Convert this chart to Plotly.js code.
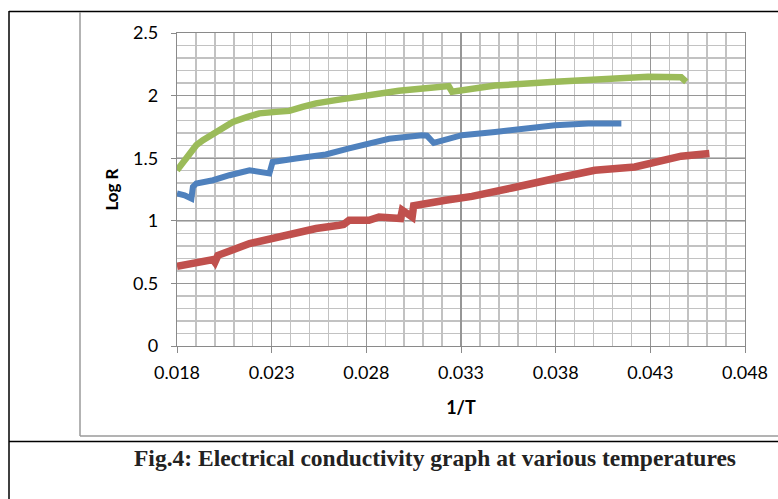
<!DOCTYPE html>
<html>
<head>
<meta charset="utf-8">
<script src="https://cdn.plot.ly/plotly-3.0.1.min.js"></script>
<style>html,body{margin:0;padding:0;background:#fff;}#chart{width:778px;height:499px;}</style>
</head>
<body>
<div id="chart"></div>
<script>
// Green series (top)
const greenX = [0.0180, 0.01832, 0.01867, 0.01902, 0.01937, 0.0199, 0.02042, 0.02095, 0.02165, 0.02235, 0.02323, 0.02393, 0.02463, 0.02534, 0.02639, 0.02797, 0.02867, 0.02972, 0.03113, 0.0320, 0.03235, 0.03253, 0.0328, 0.0348, 0.03797, 0.04007, 0.04288, 0.04463, 0.0449];
const greenY = [1.404, 1.47, 1.55, 1.604, 1.644, 1.692, 1.738, 1.79, 1.826, 1.858, 1.87, 1.878, 1.91, 1.938, 1.964, 2.004, 2.018, 2.038, 2.058, 2.068, 2.076, 2.03, 2.035, 2.08, 2.11, 2.13, 2.15, 2.146, 2.11];
// Blue series (middle)
const blueX = [0.0180, 0.0184, 0.01876, 0.01884, 0.01902, 0.0199, 0.02077, 0.02183, 0.02288, 0.02305, 0.02428, 0.02534, 0.02586, 0.02709, 0.02797, 0.02867, 0.0292, 0.03095, 0.0312, 0.03156, 0.03235, 0.03305, 0.0348, 0.03656, 0.03797, 0.03972, 0.04147];
const blueY = [1.218, 1.204, 1.178, 1.27, 1.298, 1.324, 1.364, 1.404, 1.378, 1.47, 1.498, 1.524, 1.53, 1.578, 1.61, 1.642, 1.655, 1.684, 1.68, 1.622, 1.66, 1.684, 1.71, 1.738, 1.764, 1.778, 1.778];
// Red series (bottom)
const redX = [0.0180, 0.01884, 0.01972, 0.0199, 0.0200, 0.02016, 0.02183, 0.02305, 0.02393, 0.02534, 0.02656, 0.0268, 0.02709, 0.02814, 0.02867, 0.02981, 0.0299, 0.03042, 0.0305, 0.0313, 0.03218, 0.03358, 0.0348, 0.03568, 0.03797, 0.04007, 0.04218, 0.04358, 0.04463, 0.04612];
const redY = [0.636, 0.658, 0.684, 0.69, 0.67, 0.724, 0.818, 0.858, 0.898, 0.938, 0.964, 0.97, 1.004, 1.004, 1.03, 1.018, 1.084, 1.03, 1.12, 1.135, 1.164, 1.195, 1.24, 1.262, 1.338, 1.404, 1.43, 1.484, 1.516, 1.538];

const xTicks = [0.018, 0.023, 0.028, 0.033, 0.038, 0.043, 0.048];
const xTickText = ['0.018', '0.023', '0.028', '0.033', '0.038', '0.043', '0.048'];
const yTicks = [0, 0.5, 1, 1.5, 2, 2.5];
const yTickText = ['0', '0.5', '1', '1.5', '2', '2.5'];

const captionText = 'Fig.4: Electrical conductivity graph at various temperatures';

// page geometry (pixels)
const W = 778, H = 499;
const L = 177, R = 745, T = 33, B = 346;
const px = v => (v - L) / (R - L);
const py = v => (B - v) / (B - T);

const traces = [
  {x: greenX, y: greenY, mode: 'lines', line: {color: '#9BBB59', width: 6.5}, name: 'green'},
  {x: blueX, y: blueY, mode: 'lines', line: {color: '#4F81BD', width: 6}, name: 'blue'},
  {x: redX, y: redY, mode: 'lines', line: {color: '#C0504D', width: 7.5}, name: 'red'}
];

const fam = 'Lato, "Open Sans", sans-serif';
const tickFont = {family: fam, size: 18, color: '#000'};

const layout = {
  width: W, height: H,
  margin: {l: L, r: W - R, t: T, b: H - B, pad: 0},
  paper_bgcolor: '#fff', plot_bgcolor: '#fff',
  showlegend: false,
  xaxis: {
    range: [0.018, 0.048], tickvals: xTicks, ticktext: xTickText,
    showgrid: true, gridcolor: '#969696', gridwidth: 1.2,
    minor: {dtick: 0.001, tick0: 0.018, showgrid: true, gridcolor: '#c2c2c2', gridwidth: 1.5},
    zeroline: false, showline: true, linecolor: '#8a8a8a', linewidth: 1.2, mirror: true,
    ticks: 'outside', ticklen: 6, tickcolor: '#8a8a8a', ticklabelstandoff: 4,
    tickfont: tickFont,
    title: {text: '<b>1/T</b>', font: {family: fam, size: 18, color: '#000'}, standoff: 19}
  },
  yaxis: {
    range: [0, 2.5], tickvals: yTicks, ticktext: yTickText,
    showgrid: true, gridcolor: '#969696', gridwidth: 1.2,
    minor: {dtick: 0.1, tick0: 0, showgrid: true, gridcolor: '#c2c2c2', gridwidth: 1.5},
    zeroline: false, showline: true, linecolor: '#8a8a8a', linewidth: 1.2, mirror: true,
    ticks: 'outside', ticklen: 5, tickcolor: '#8a8a8a', ticklabelstandoff: 9,
    tickfont: tickFont,
    title: {text: '<b>Log R</b>', font: {family: fam, size: 17, color: '#000'}, standoff: 10}
  },
  shapes: [
    // outer black table lines
    {type: 'line', xref: 'paper', yref: 'paper', x0: px(9), x1: px(W), y0: py(11.5), y1: py(11.5), line: {color: '#000', width: 1.5}},
    {type: 'line', xref: 'paper', yref: 'paper', x0: px(9), x1: px(9), y0: py(11), y1: py(H), line: {color: '#000', width: 1.5}},
    {type: 'line', xref: 'paper', yref: 'paper', x0: px(9), x1: px(W), y0: py(441.5), y1: py(441.5), line: {color: '#000', width: 1.5}},
    // grey chart frame
    {type: 'line', xref: 'paper', yref: 'paper', x0: px(80), x1: px(80), y0: py(12), y1: py(436), line: {color: '#9a9a9a', width: 1.5}},
    {type: 'line', xref: 'paper', yref: 'paper', x0: px(80), x1: px(W), y0: py(436), y1: py(436), line: {color: '#9a9a9a', width: 1.5}}
  ],
  annotations: [
    {xref: 'paper', yref: 'paper', x: px(435), y: py(458), xanchor: 'center', yanchor: 'middle', showarrow: false,
     text: '<b>' + captionText + '</b>', font: {family: '"Liberation Serif", "Times New Roman", serif', size: 23.5, color: '#222'}}
  ]
};

Plotly.newPlot('chart', traces, layout, {displayModeBar: false, staticPlot: true});
</script>
</body>
</html>
